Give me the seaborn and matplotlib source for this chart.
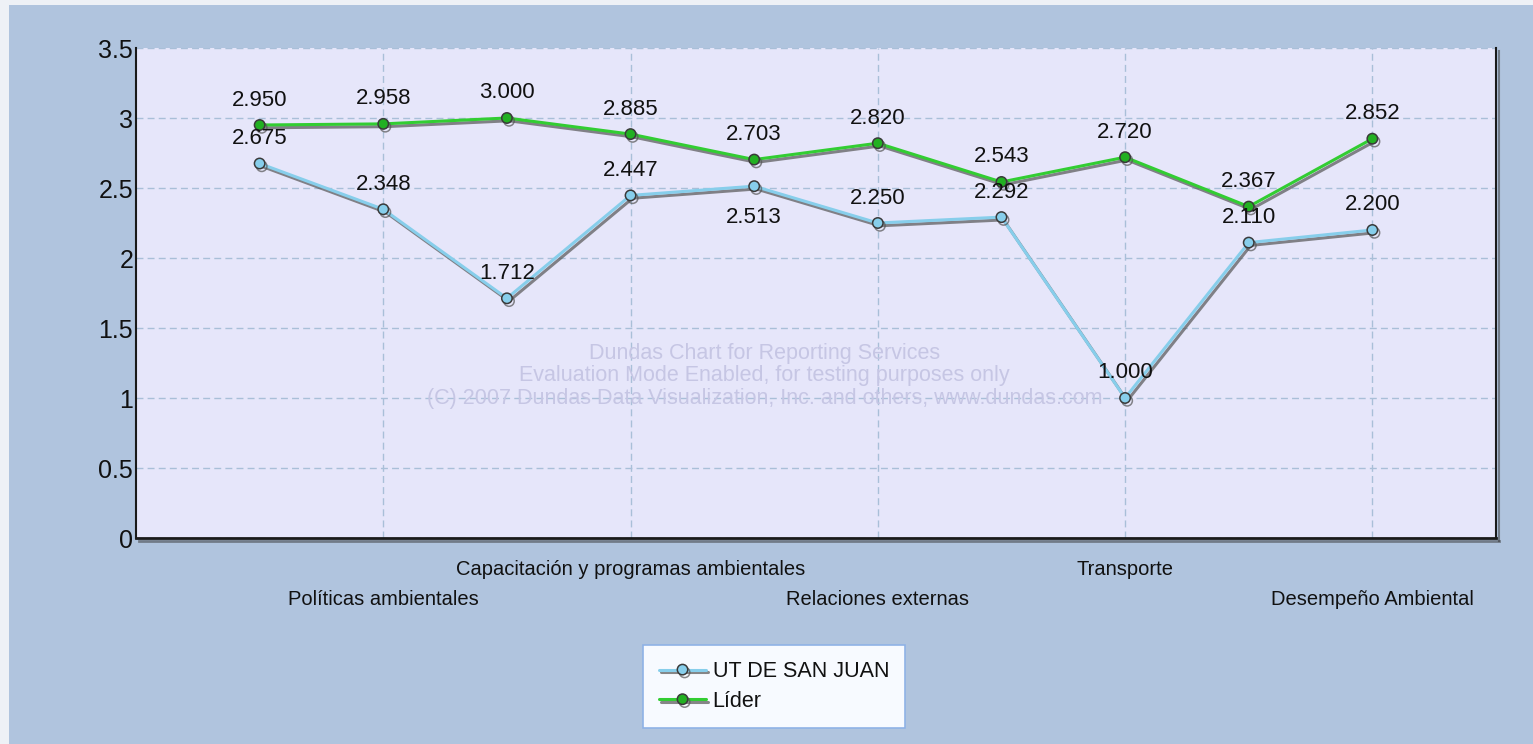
import numpy as np
import pandas as pd
import matplotlib
matplotlib.use("Agg")
import matplotlib.pyplot as plt
import matplotlib.patheffects as pe
from matplotlib.patches import Rectangle
import seaborn as sns

# datos
positions = list(range(10))
tick_labels = ["", "Políticas ambientales", "", "Capacitación y programas ambientales", "",
               "Relaciones externas", "", "Transporte", "", "Desempeño Ambiental"]
ut_san_juan = [2.675, 2.348, 1.712, 2.447, 2.513, 2.250, 2.292, 1.000, 2.110, 2.200]
lider = [2.950, 2.958, 3.000, 2.885, 2.703, 2.820, 2.543, 2.720, 2.367, 2.852]
series_names = ["UT DE SAN JUAN", "Líder"]
y_ticks = [0, 0.5, 1, 1.5, 2, 2.5, 3, 3.5]

df = pd.DataFrame({
    "pos": positions * 2,
    "valor": ut_san_juan + lider,
    "serie": [series_names[0]] * 10 + [series_names[1]] * 10,
})

sns.set_theme(style="white")
plt.rcParams["font.family"] = ["Liberation Sans", "DejaVu Sans"]

fig = plt.figure(figsize=(15.33, 7.44), dpi=100)
fig.patch.set_facecolor("#EEF1F6")
# panel de fondo
fig.patches.append(Rectangle((9 / 1533, 0), 1, 1 - 5 / 744, transform=fig.transFigure,
                             facecolor="#B0C4DE", edgecolor="none", zorder=-1))

ax = fig.add_axes([136 / 1533, 1 - 538 / 744, (1496 - 136) / 1533, (538 - 48) / 744])
ax.set_facecolor("#E6E6FA")

colors = {"UT DE SAN JUAN": "#87CEEB", "Líder": "#32CD32"}
face = {"UT DE SAN JUAN": "#87CEEB", "Líder": "#22B022"}
shadow = [pe.SimpleLineShadow(offset=(1.5, -2), shadow_color="#555555", alpha=0.7), pe.Normal()]

for name in series_names:
    sub = df[df["serie"] == name]
    sns.lineplot(data=sub, x="pos", y="valor", ax=ax, color=colors[name],
                 linewidth=2.2, marker="o", markersize=7.5, markerfacecolor=face[name],
                 markeredgecolor="#3a3a3a", markeredgewidth=1.1, label=name,
                 path_effects=shadow, zorder=3)

# etiquetas de valores
for i in positions:
    for vals, other in ((ut_san_juan, lider), (lider, ut_san_juan)):
        v = vals[i]
        below = (other[i] > v) and (other[i] - v < 0.2)
        ax.annotate(f"{v:.3f}", (i, v), textcoords="offset pixels",
                    xytext=(0, -31 if below else 25), ha="center", va="center",
                    fontsize=16, color="#111111", zorder=4)

# marca de agua
ax.text(0.462, 0.331, "Dundas Chart for Reporting Services\nEvaluation Mode Enabled, for testing purposes only\n"
        "(C) 2007 Dundas Data Visualization, Inc. and others, www.dundas.com",
        transform=ax.transAxes, ha="center", va="center", fontsize=15.5,
        color="#C6C6E4", linespacing=1.1, zorder=1)

ax.set_xlim(-1, 10)
ax.set_ylim(0, 3.5)
ax.set_yticks(y_ticks)
ax.set_yticklabels([f"{t:g}" for t in y_ticks], fontsize=18, color="#111111")

row1 = [i for i in positions if tick_labels[i] and i % 4 == 3]
row2 = [i for i in positions if tick_labels[i] and i % 4 == 1]
ax.set_xticks(row1)
ax.set_xticklabels([tick_labels[i] for i in row1], fontsize=14.5, color="#111111")
ax.set_xticks(row2, minor=True)
ax.set_xticklabels([tick_labels[i] for i in row2], minor=True, fontsize=14.5, color="#111111")
ax.tick_params(axis="x", which="major", length=0, pad=15.5)
ax.tick_params(axis="x", which="minor", length=0, pad=37.5)
ax.tick_params(axis="y", length=0, pad=2)

grid_kw = dict(color="#A9BFD8", linestyle=(0, (5, 3)), linewidth=1)
ax.grid(True, axis="y", **grid_kw)
ax.grid(True, axis="x", which="both", **grid_kw)
ax.set_axisbelow(True)
ax.set_xlabel("")
ax.set_ylabel("")

ax.spines["top"].set_visible(False)
for side in ("left", "bottom", "right"):
    ax.spines[side].set_color("#1a1a1a")
ax.spines["left"].set_linewidth(1.5)
ax.spines["bottom"].set_linewidth(2)
ax.spines["right"].set_linewidth(1.5)
sp_shadow = [pe.SimpleLineShadow(offset=(2, -2), shadow_color="#333333", alpha=0.5), pe.Normal()]
ax.spines["bottom"].set_path_effects(sp_shadow)
ax.spines["right"].set_path_effects(sp_shadow)

# leyenda
ax.get_legend().remove()
handles, labels = ax.get_legend_handles_labels()
leg = fig.legend(handles, labels, loc="upper center",
                 bbox_to_anchor=(774 / 1533, 1 - 645 / 744), fontsize=15.5,
                 frameon=True, fancybox=False, framealpha=1, handlelength=2.2,
                 handletextpad=0.3, labelspacing=0.4, borderpad=0.75,
                 borderaxespad=0)
leg.get_frame().set_facecolor("#F7FAFF")
leg.get_frame().set_edgecolor("#8FB2E6")
leg.get_frame().set_linewidth(1.2)
for t in leg.get_texts():
    t.set_color("#111111")

fig.savefig("out.png", dpi=100, facecolor=fig.get_facecolor())
